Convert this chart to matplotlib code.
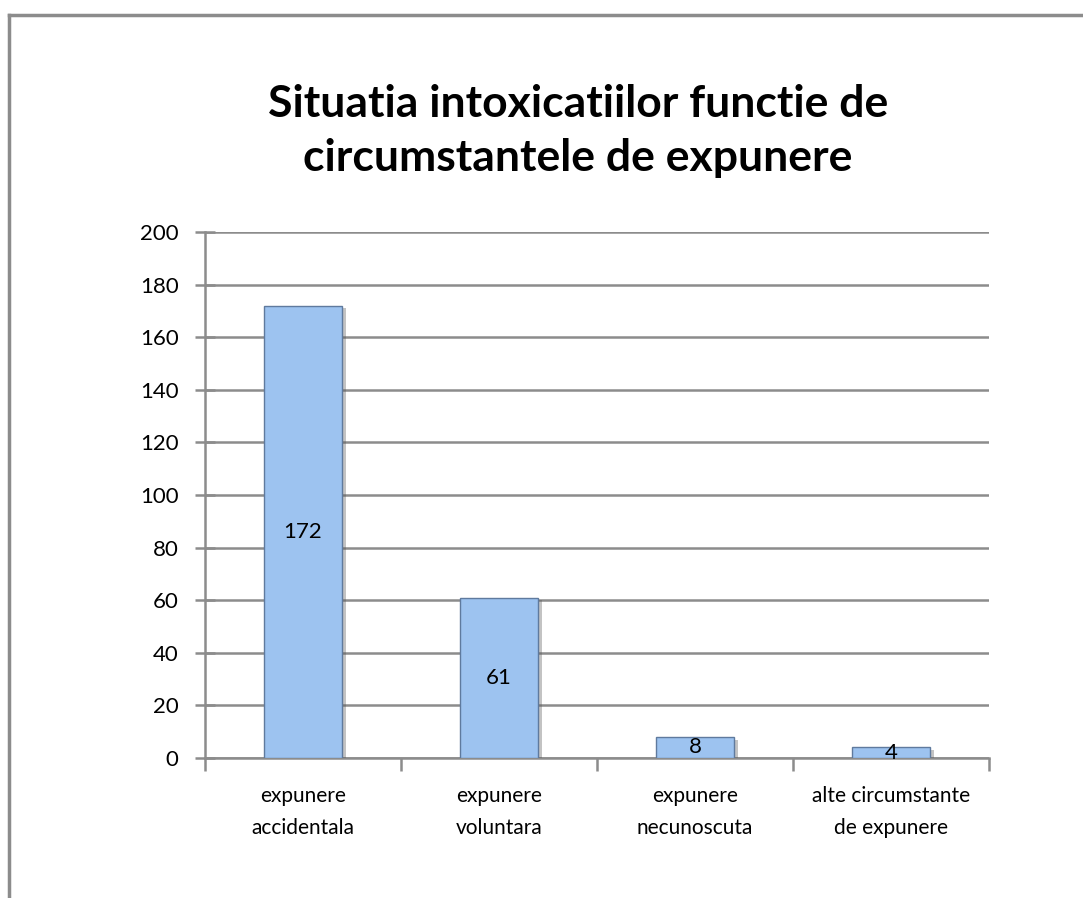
"""Bar chart: situatia intoxicatiilor functie de circumstantele de expunere."""

import matplotlib
import matplotlib.pyplot as plt
import matplotlib.patheffects as pe
import numpy as np

matplotlib.use("Agg")

categories = [
    "expunere\naccidentala",
    "expunere\nvoluntara",
    "expunere\nnecunoscuta",
    "alte circumstante\nde expunere",
]
values = [172, 61, 8, 4]
y_ticks = [0, 20, 40, 60, 80, 100, 120, 140, 160, 180, 200]

TITLE = "Situatia intoxicatiilor functie de\ncircumstantele de expunere"
BAR_COLOR = "#9DC3F0"
EDGE_COLOR = "#5F7A9E"
GRID_COLOR = "#8C8C8C"

plt.rcParams["font.family"] = ["Lato", "DejaVu Sans"]

fig = plt.figure(figsize=(10.83, 8.98), dpi=100)

# frame around the chart area (only left and top edges visible)
fig.add_artist(plt.Line2D([0.0085, 0.0085], [0.0, 0.983], transform=fig.transFigure,
                          color="#8C8C8C", lw=2.5))
fig.add_artist(plt.Line2D([0.0085, 1.0], [0.983, 0.983], transform=fig.transFigure,
                          color="#8C8C8C", lw=2.5))

ax = fig.add_axes([205 / 1083, 1 - 758 / 898, (989 - 205) / 1083, (758 - 232) / 898])

x = np.arange(len(categories))
bars = ax.bar(x, values, width=0.4, color=BAR_COLOR, edgecolor=EDGE_COLOR,
              linewidth=1, zorder=3)
for b in bars:
    b.set_path_effects([pe.SimplePatchShadow(offset=(3, -2), shadow_rgbFace="#555555",
                                             alpha=0.35), pe.Normal()])

for xi, v in zip(x, values):
    ax.text(xi, v / 2, str(v), ha="center", va="center", fontsize=16, zorder=4)

ax.set_xlim(-0.5, len(categories) - 0.5)
ax.set_ylim(0, 200)
ax.set_yticks(y_ticks)
ax.yaxis.grid(True, color=GRID_COLOR, lw=1.8, zorder=0)
ax.set_axisbelow(True)

for s in ["top", "right"]:
    ax.spines[s].set_visible(False)
ax.spines["left"].set_color(GRID_COLOR)
ax.spines["left"].set_linewidth(1.8)
ax.spines["bottom"].set_color(GRID_COLOR)
ax.spines["bottom"].set_linewidth(1.8)

ax.tick_params(axis="y", direction="inout", length=14, width=1.8, color=GRID_COLOR,
               labelsize=16, pad=12)
ax.set_xticks(x)
ax.set_xticklabels(categories, fontsize=15, linespacing=1.75)
ax.set_xticks(np.arange(len(categories) + 1) - 0.5, minor=True)
ax.tick_params(axis="x", which="major", length=0, pad=20)
ax.tick_params(axis="x", which="minor", direction="out", length=9, width=1.8,
               color=GRID_COLOR)

fig.text(578 / 1083, 1 - 131 / 898, TITLE, ha="center", va="center", fontsize=32,
         fontweight="bold", linespacing=1.4)

fig.savefig("out.png", dpi=100)
